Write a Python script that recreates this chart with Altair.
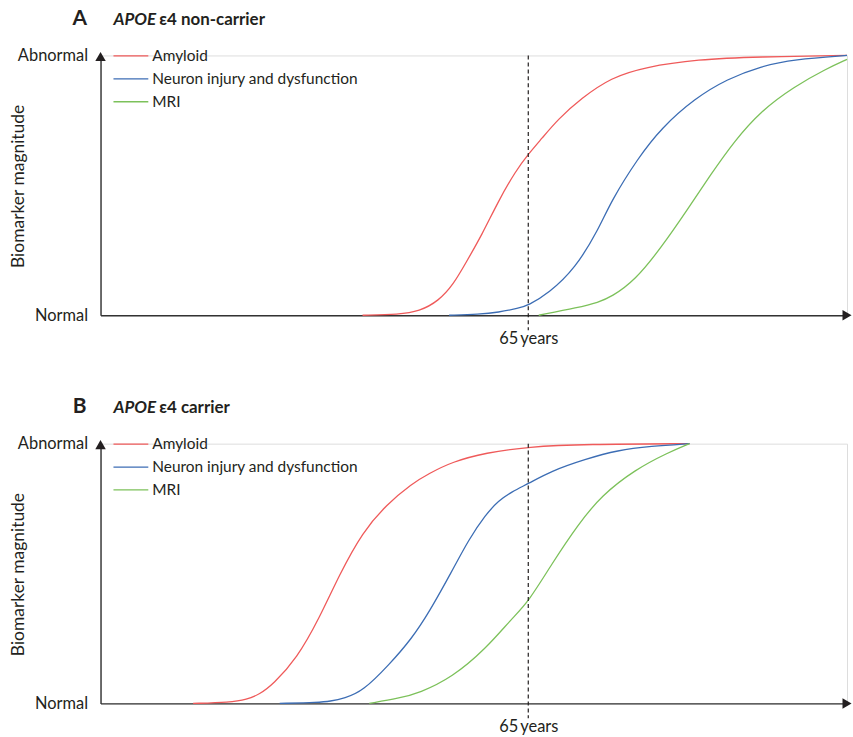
import altair as alt
import pandas as pd

FONT = "Lato"
INK = "#231f20"

series_names = ["Amyloid", "Neuron injury and dysfunction", "MRI"]
series_colors = ["#ef5a5a", "#3c6db4", "#7cc15a"]

# time axis in arbitrary units (0-100); the 65-year mark sits at 57.3
age65_t = 57.3
age65_label = "65\u2009years"

# Panel A: APOE e4 non-carrier
a_amyloid_t = [35.1, 40.0, 42.7, 45.3, 47.3, 48.9, 51.1, 53.3, 55.6, 57.3, 59.1, 61.3, 64.4, 68.4, 72.9, 80.0, 88.0, 100.0]
a_amyloid_v = [0.0, 0.003, 0.015, 0.055, 0.12, 0.2, 0.31, 0.44, 0.555, 0.62, 0.68, 0.755, 0.835, 0.915, 0.955, 0.985, 0.995, 1.0]
a_neuron_t = [46.7, 50.7, 53.3, 56.0, 57.3, 60.0, 63.6, 66.7, 68.4, 72.0, 75.1, 79.6, 84.0, 88.4, 92.9, 100.0]
a_neuron_v = [0.0, 0.004, 0.011, 0.027, 0.038, 0.084, 0.18, 0.33, 0.44, 0.605, 0.72, 0.835, 0.91, 0.958, 0.985, 1.0]
a_mri_t = [58.7, 64.0, 66.7, 68.4, 71.6, 75.1, 78.7, 81.7, 84.9, 88.4, 92.9, 97.3, 100.0]
a_mri_v = [0.0, 0.03, 0.05, 0.07, 0.134, 0.26, 0.41, 0.54, 0.67, 0.785, 0.88, 0.95, 0.985]

# Panel B: APOE e4 carrier
b_amyloid_t = [12.4, 17.3, 19.6, 21.3, 23.1, 26.3, 29.3, 32.0, 35.1, 38.3, 41.7, 44.0, 47.1, 51.6, 57.3, 64.9, 78.9]
b_amyloid_v = [0.0, 0.004, 0.015, 0.035, 0.073, 0.173, 0.327, 0.496, 0.66, 0.765, 0.846, 0.885, 0.93, 0.965, 0.988, 0.998, 1.0]
b_neuron_t = [24.0, 29.3, 30.7, 32.7, 35.1, 38.7, 41.7, 44.0, 47.1, 49.3, 51.6, 53.3, 55.1, 57.3, 60.4, 64.9, 69.3, 73.7, 78.9]
b_neuron_v = [0.0, 0.004, 0.008, 0.02, 0.046, 0.15, 0.25, 0.35, 0.51, 0.63, 0.727, 0.78, 0.815, 0.846, 0.895, 0.94, 0.975, 0.99, 1.0]
b_mri_t = [36.0, 40.0, 42.7, 47.1, 51.6, 55.1, 57.3, 60.4, 64.0, 67.1, 71.6, 76.0, 78.9]
b_mri_v = [0.0, 0.02, 0.04, 0.1, 0.21, 0.327, 0.39, 0.535, 0.69, 0.8, 0.9, 0.965, 1.0]


def long_table(ts, vs):
    rows = []
    for name, t_list, v_list in zip(series_names, ts, vs):
        for t, v in zip(t_list, v_list):
            rows.append({"series": name, "t": t, "v": v})
    return pd.DataFrame(rows)


df_a = long_table([a_amyloid_t, a_neuron_t, a_mri_t], [a_amyloid_v, a_neuron_v, a_mri_v])
df_b = long_table([b_amyloid_t, b_neuron_t, b_mri_t], [b_amyloid_v, b_neuron_v, b_mri_v])

W, H = 750, 261

x_enc = alt.X(
    "t:Q",
    scale=alt.Scale(domain=[0, 100], nice=False, zero=False),
    axis=alt.Axis(
        values=[age65_t], labelExpr=f"'{age65_label}'", ticks=False, grid=False,
        domainColor="#333333", domainWidth=1.4, labelFontSize=16.5, labelFont=FONT,
        labelColor=INK, labelPadding=15, title=None,
    ),
)
y_enc = alt.Y(
    "v:Q",
    scale=alt.Scale(domain=[0, 1], nice=False),
    axis=alt.Axis(
        values=[0, 1], labelExpr="datum.value == 1 ? 'Abnormal' : 'Normal'",
        ticks=False, grid=False, domainColor="#333333", domainWidth=1.4,
        labelFontSize=16.5, labelFont=FONT, labelColor=INK, labelPadding=13,
        title="Biomarker magnitude", titleFont=FONT, titleFontSize=17.5,
        titleFontWeight="normal", titleColor=INK, titleX=-82, titleY=131,
        titleAngle=270, titleAlign="center", titleBaseline="middle",
    ),
)


def panel(df, letter, rest):
    lines = alt.Chart(df).mark_line(strokeWidth=1.3, interpolate="basis").encode(
        x=x_enc, y=y_enc,
        color=alt.Color(
            "series:N", sort=series_names,
            scale=alt.Scale(domain=series_names, range=series_colors),
            legend=alt.Legend(
                orient="none", legendX=12, legendY=-11, title=None, padding=0,
                symbolType="stroke", symbolSize=1225, symbolStrokeWidth=1.3,
                labelFont=FONT, labelFontSize=15.5, labelColor=INK, labelOffset=3,
                rowPadding=0, clipHeight=23, labelLimit=0,
            ),
        ),
    )
    rule = alt.Chart(pd.DataFrame({"t": [age65_t]})).mark_rule(
        strokeDash=[4, 3], color=INK, strokeWidth=1.2
    ).encode(x=x_enc, y=alt.value(0), y2=alt.value(H + 15))
    up = alt.Chart(pd.DataFrame({"t": [0], "v": [1]})).mark_point(
        shape="triangle-up", filled=True, color=INK, size=110, opacity=1, yOffset=1
    ).encode(x=x_enc, y=y_enc)
    right = alt.Chart(pd.DataFrame({"t": [100], "v": [0]})).mark_point(
        shape="triangle-right", filled=True, color=INK, size=110, opacity=1
    ).encode(x=x_enc, y=y_enc)
    t_letter = alt.Chart(pd.DataFrame({"s": [letter]})).mark_text(
        font=FONT, fontSize=21, fontWeight="bold", color=INK, align="center", baseline="middle"
    ).encode(x=alt.value(-21), y=alt.value(-37), text="s:N")
    t_gene = alt.Chart(pd.DataFrame({"s": ["APOE"]})).mark_text(
        font=FONT, fontSize=17, fontWeight="bold", fontStyle="italic", color=INK,
        align="left", baseline="middle"
    ).encode(x=alt.value(13), y=alt.value(-36), text="s:N")
    t_rest = alt.Chart(pd.DataFrame({"s": [rest]})).mark_text(
        font=FONT, fontSize=17, fontWeight="bold", color=INK, align="left", baseline="middle"
    ).encode(x=alt.value(59), y=alt.value(-36), text="s:N")
    return alt.layer(lines, rule, up, right, t_letter, t_gene, t_rest).properties(width=W, height=H)


chart = alt.vconcat(
    panel(df_a, "A", "\u03b54 non-carrier"),
    panel(df_b, "B", "\u03b54 carrier"),
    spacing=48,
).resolve_legend(color="independent").properties(
    padding={"left": 9, "top": 5, "right": 0, "bottom": 0}
).configure_view(stroke=None).configure(background="white")

chart.save("out.html", embed_options={"renderer": "svg", "actions": False})
